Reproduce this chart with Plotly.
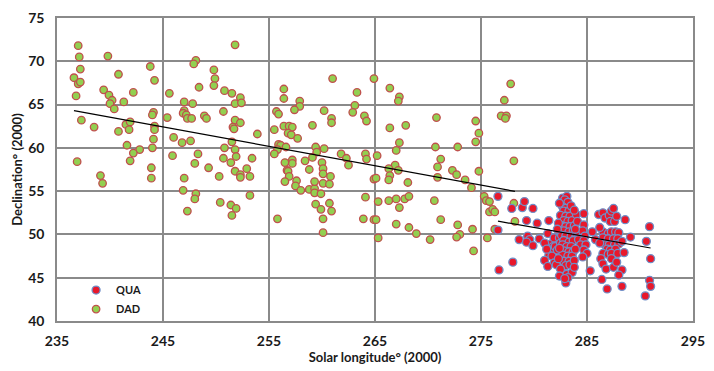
import plotly.graph_objects as go

# ---------------- data ----------------
dad_lon = [237.0, 237.1, 239.8, 237.2, 236.6, 237.0, 237.2, 240.8, 243.8, 244.2,
           236.8, 239.4, 239.9, 240.2, 240.0, 240.4, 241.3, 242.2, 237.3, 238.5,
           240.8, 241.5, 241.9, 241.8, 244.1, 244.0, 244.2, 244.2, 244.1, 241.6,
           242.8, 242.2, 244.0, 241.9, 236.9, 243.9, 248.1, 247.9, 249.8, 249.9,
           249.8, 248.4, 245.6, 247.0, 247.8, 247.0, 246.9, 247.2, 247.3, 247.7,
           248.9, 249.1, 245.4, 246.0, 246.8, 247.6, 245.9, 248.3, 248.0, 249.3,
           239.1, 239.3, 243.9, 247.0, 246.9, 248.1, 248.0, 247.3,
           251.8, 250.8, 251.5, 252.3, 251.8, 252.4, 250.7, 251.8, 252.3, 251.6,
           251.7, 253.9, 251.5, 250.8, 251.8, 250.7, 251.9, 251.4, 253.4, 251.8,
           252.9, 261.0, 264.9, 256.4, 256.4, 257.9, 257.9, 263.3, 263.1, 262.9,
           260.2, 257.4, 255.7, 255.9, 260.9, 260.9, 264.0, 264.2, 259.1, 256.4,
           256.9, 257.2, 255.5, 256.8, 257.1, 257.7, 255.9, 256.1, 256.6, 255.8,
           255.5, 259.4, 259.5, 260.2, 259.1, 261.8, 262.3, 262.5, 264.1, 264.2,
           258.4, 257.2, 257.2, 256.5, 260.0, 260.1, 258.8, 256.7,
           250.3, 252.3, 252.3, 253.2, 253.2, 250.4, 251.4, 251.9, 251.5, 255.8,
           256.8, 260.1, 256.9, 256.5, 257.6, 257.5, 258.0, 258.8, 259.3, 259.3,
           259.9, 259.3, 260.1, 260.7, 260.8, 259.4, 259.9, 260.7, 260.9, 260.1,
           260.1, 264.1, 263.9, 264.9, 264.9,
           266.4, 267.3, 267.2, 270.8, 274.5, 274.8, 274.5, 266.4, 267.9, 267.3,
           267.0, 270.7, 272.8, 265.2, 271.2, 270.9, 272.3, 274.8, 266.9, 266.3,
           267.2, 277.8, 277.2, 276.9, 277.4, 277.3, 278.1,
           266.4, 266.3, 265.1, 268.1, 270.9, 272.7, 273.5, 274.1, 265.3, 266.3,
           267.0, 267.3, 267.8, 268.2, 270.6, 265.1, 267.0, 268.2, 268.9, 270.2,
           271.2, 272.8, 273.0, 272.7, 274.2, 265.3, 274.3, 275.3, 275.5, 275.8,
           275.8, 276.1, 276.3, 278.1, 278.2, 276.3, 275.6]
dad_dec = [71.8, 70.5, 70.6, 69.1, 68.1, 67.4, 67.6, 68.5, 69.4, 67.8,
           66.0, 66.7, 66.1, 65.5, 65.1, 64.5, 65.3, 66.4, 63.2, 62.4,
           61.9, 62.7, 63.0, 62.1, 64.1, 63.8, 62.5, 62.1, 61.0, 60.3,
           59.8, 59.4, 60.0, 58.5, 58.4, 57.7, 70.1, 69.7, 69.0, 68.0,
           67.2, 67.0, 66.3, 65.3, 65.1, 64.3, 64.0, 63.8, 63.4, 63.4,
           63.7, 63.4, 63.5, 61.2, 60.6, 60.8, 59.1, 59.3, 58.2, 57.7,
           56.8, 55.9, 56.5, 56.5, 55.1, 54.7, 54.1, 52.7,
           71.9, 66.6, 66.3, 65.8, 65.1, 65.2, 64.2, 63.2, 62.9, 62.4,
           62.2, 61.6, 60.7, 60.0, 59.8, 58.8, 59.0, 58.3, 58.8, 57.3,
           57.6, 68.0, 68.0, 66.8, 65.7, 65.4, 64.8, 66.4, 64.9, 64.1,
           64.3, 64.4, 64.2, 63.9, 63.4, 62.9, 63.7, 63.1, 62.6, 62.5,
           62.5, 62.4, 62.1, 61.7, 61.5, 61.1, 60.4, 60.3, 60.1, 59.8,
           59.3, 60.1, 59.5, 59.9, 58.9, 59.3, 58.8, 58.0, 59.3, 58.7,
           58.5, 58.6, 58.2, 58.3, 58.3, 57.6, 57.5, 57.4,
           56.7, 56.9, 56.6, 56.7, 54.5, 53.7, 53.4, 53.0, 52.2, 51.8,
           57.3, 57.0, 56.7, 56.1, 56.2, 55.6, 55.1, 55.2, 55.3, 54.8,
           54.7, 56.1, 55.9, 55.8, 56.7, 53.5, 52.9, 53.6, 52.7, 51.8,
           50.2, 54.3, 51.8, 51.7, 56.4,
           66.9, 65.9, 65.4, 63.5, 63.1, 61.7, 60.7, 62.3, 62.6, 60.6,
           59.7, 60.1, 60.1, 59.1, 58.7, 57.8, 57.4, 57.3, 58.0, 57.6,
           57.4, 67.4, 65.5, 63.7, 63.7, 63.4, 58.5,
           56.8, 56.3, 56.5, 56.0, 56.6, 56.9, 56.3, 55.4, 53.8, 53.9,
           54.1, 53.1, 54.1, 54.4, 53.9, 51.7, 51.2, 50.8, 50.1, 49.4,
           51.7, 51.1, 50.0, 49.7, 50.6, 49.6, 48.1, 54.4, 53.9, 53.8,
           52.6, 52.9, 52.6, 53.6, 51.5, 50.6, 49.6]

qua_lon = [276.6, 277.9, 278.9, 279.1, 279.9, 279.3, 280.3, 276.6, 278.6, 279.4,
           279.6, 279.3, 279.9, 280.5, 278.0, 276.7, 281.3,
           281.6, 281.8, 281.5, 282.0, 281.4, 281.7, 281.9, 282.1, 282.2, 281.9,
           282.4, 282.5,
           282.7, 283.1, 282.9, 283.2, 282.7, 283.0, 282.8, 283.3, 282.5, 283.0,
           283.4, 282.8, 283.2, 283.6, 282.6, 283.0, 283.4, 283.8, 282.8, 283.3,
           283.7, 282.6, 283.0, 283.5, 283.9, 282.8, 283.3, 283.7, 282.7, 283.1,
           283.5, 282.8, 283.3, 283.7, 282.7, 283.2, 283.6, 282.8, 283.3, 283.0,
           283.4, 283.1, 283.6, 283.0,
           284.0, 284.7, 284.1, 284.7, 284.0, 284.6, 284.8, 284.2, 284.7, 284.4,
           284.9, 284.7, 285.0, 284.6, 285.3, 285.5, 285.8,
           286.1, 286.5, 286.7, 287.1, 287.3, 287.5, 287.2, 287.6, 288.6, 286.5,
           287.0, 287.3, 287.7, 288.0, 286.5, 287.0, 287.5, 287.9, 286.7, 287.1,
           287.6, 288.0, 286.9, 287.2, 287.7, 286.5, 287.0, 287.3, 287.9, 288.5,
           286.3, 286.5, 286.8, 287.5, 288.3, 288.0, 286.4, 286.9, 288.3, 289.1,
           290.9, 290.6, 291.0, 290.9, 291.0, 290.5,
           282.4, 283.5, 282.3, 282.2, 283.9, 282.4, 283.9, 282.3, 283.8, 282.5,
           283.8, 282.4, 283.2, 283.8, 281.4, 281.0, 281.2, 281.0, 281.3, 282.9,
           286.2, 287.8, 286.2, 287.3, 288.3, 287.8]
qua_dec = [54.4, 53.0, 53.1, 53.8, 53.0, 51.6, 51.3, 50.5, 49.4, 49.8,
           49.4, 49.1, 48.7, 49.5, 46.8, 45.9, 50.1,
           48.9, 48.6, 48.2, 48.6, 47.6, 47.5, 46.7, 46.5, 48.2, 49.6,
           49.6, 49.0,
           54.2, 54.4, 54.0, 53.7, 53.2, 53.0, 52.7, 52.7, 52.2, 52.1,
           52.1, 51.6, 51.5, 51.6, 51.0, 50.9, 50.9, 51.0, 50.4, 50.3,
           50.4, 49.9, 49.8, 49.8, 49.6, 49.3, 49.1, 49.3, 48.8, 48.6,
           48.6, 48.1, 48.0, 48.0, 47.6, 47.5, 47.5, 46.9, 46.9, 46.4,
           46.5, 45.4, 45.6, 44.4,
           52.3, 52.4, 51.5, 51.1, 50.3, 50.4, 49.8, 49.4, 49.3, 48.8,
           48.8, 48.2, 47.8, 47.4, 45.8, 50.3, 49.4,
           52.3, 52.5, 51.9, 52.2, 52.7, 53.0, 51.5, 51.5, 51.7, 50.3,
           50.1, 50.3, 50.3, 50.2, 49.6, 49.5, 49.5, 49.5, 48.8, 48.8,
           48.8, 48.9, 48.3, 48.2, 48.3, 47.8, 47.7, 47.8, 47.8, 47.9,
           47.2, 46.6, 46.0, 46.2, 45.9, 45.3, 44.8, 43.7, 44.0, 49.7,
           50.9, 49.2, 47.2, 44.7, 44.0, 42.9,
           53.6, 53.3, 51.3, 50.6, 50.6, 48.4, 48.3, 47.2, 47.0, 46.0,
           46.2, 45.2, 45.0, 52.8, 51.6, 49.0, 48.3, 47.0, 46.3, 44.9,
           50.8, 52.1, 49.0, 47.2, 49.2, 46.8]

# linear trend lines (slope, intercept)
dad_fit = (-0.224, 117.3)
qua_fit = (-0.215, 111.0)

x_ticks = [235, 245, 255, 265, 275, 285, 295]
y_ticks = [40, 45, 50, 55, 60, 65, 70, 75]

FONT = "Lato, 'Open Sans', Arial, sans-serif"


def trend(xs, fit):
    x0, x1 = min(xs), max(xs)
    return [x0, x1], [fit[0] * x0 + fit[1], fit[0] * x1 + fit[1]]


fig = go.Figure()

fig.add_trace(go.Scatter(
    x=dad_lon, y=dad_dec, mode="markers", name="DAD",
    marker=dict(size=7.5, color="#92D050", line=dict(color="#C0504D", width=1.3))))
fig.add_trace(go.Scatter(
    x=qua_lon, y=qua_dec, mode="markers", name="QUA",
    marker=dict(size=8, color="#E8182B", line=dict(color="#6F8FC8", width=1.3))))

tx, ty = trend(dad_lon, dad_fit)
fig.add_trace(go.Scatter(x=tx, y=ty, mode="lines", line=dict(color="black", width=1.2),
                         showlegend=False, hoverinfo="skip"))
tx, ty = trend(qua_lon, qua_fit)
fig.add_trace(go.Scatter(x=tx, y=ty, mode="lines", line=dict(color="black", width=1.2),
                         showlegend=False, hoverinfo="skip"))

fig.update_layout(
    width=714, height=371,
    margin=dict(l=57, r=17, t=9, b=48),
    paper_bgcolor="white", plot_bgcolor="white",
    font=dict(family=FONT, size=13, color="#1a1a1a"),
    showlegend=True,
    legend=dict(x=0.03, y=0.15, xanchor="left", yanchor="top",
                traceorder="reversed", bgcolor="rgba(0,0,0,0)",
                font=dict(family=FONT, size=11, color="#1a1a1a", weight="bold"),
                itemwidth=30, tracegroupgap=0),
    xaxis=dict(range=[235, 295], tickvals=x_ticks, showgrid=True,
               gridcolor="#8a8a8a", gridwidth=1.5, showline=True, linecolor="#8a8a8a",
               linewidth=1.5, mirror=True, zeroline=False, ticks="",
               ticklabelstandoff=6,
               tickfont=dict(family=FONT, size=14, weight="bold"),
               title=dict(text="Solar longitude° (2000)", standoff=4,
                          font=dict(family=FONT, size=13, weight="bold"))),
    yaxis=dict(range=[40, 75], tickvals=y_ticks, showgrid=True,
               gridcolor="#8a8a8a", gridwidth=1.5, showline=True, linecolor="#8a8a8a",
               linewidth=1.5, mirror=True, zeroline=False, ticks="",
               ticklabelstandoff=8,
               tickfont=dict(family=FONT, size=14, weight="bold"),
               title=dict(text="Declination° (2000)", standoff=3,
                          font=dict(family=FONT, size=13, weight="bold"))),
)

fig.write_html("out.html")
